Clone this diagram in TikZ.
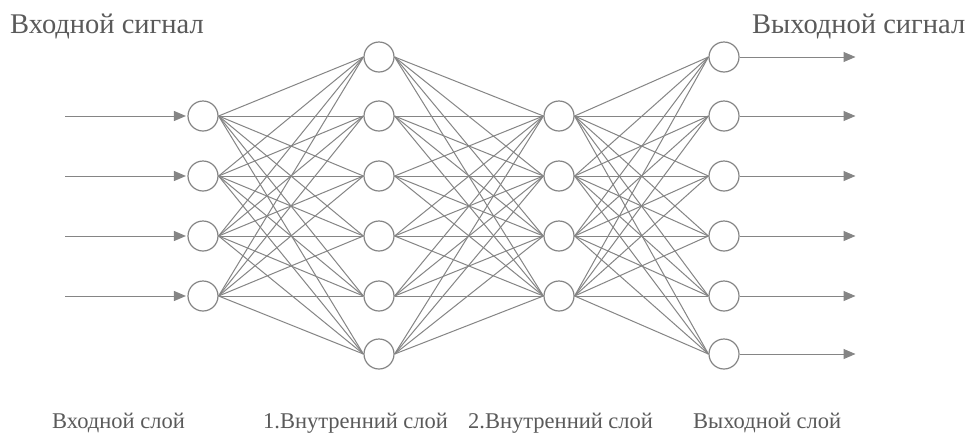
\documentclass[tikz,border=0pt]{standalone}
\usepackage{fontspec}
\setmainfont{Liberation Serif}
\usetikzlibrary{arrows.meta}
\definecolor{linegray}{HTML}{858585}
\definecolor{textgray}{HTML}{5A5A5A}
\tikzset{
  neuron/.style={circle, draw=linegray, line width=1.2pt, minimum size=30pt, inner sep=0pt, fill=white},
  link/.style={draw=linegray, line width=1pt},
  sigarrow/.style={draw=linegray, line width=1pt, -{Triangle[length=12pt,width=10pt]}, shorten >=1.5pt},
  title/.style={text=textgray, font=\fontsize{28.5}{30}\selectfont, inner sep=0pt, anchor=base west},
  layerlabel/.style={text=textgray, font=\fontsize{22.5}{24}\selectfont, inner sep=0pt, anchor=base west}
}
\begin{document}
\begin{tikzpicture}[x=1pt,y=-1pt]
\useasboundingbox (0,0) rectangle (975,432);
\fill[white] (0,0) rectangle (975,432);
\foreach \i/\y in {1/116,2/176,3/236,4/296} {
  \coordinate (s\i) at (65,\y);
}
\foreach \i/\y in {1/57,2/116,3/176,4/236,5/296,6/354} {
  \coordinate (t\i) at (857,\y);
}
\foreach \i/\y in {1/116,2/176,3/236,4/296} \path (203,\y) coordinate (pa\i);
\foreach \i/\y in {1/57,2/116,3/176,4/236,5/296,6/354} \path (379,\y) coordinate (pb\i);
\foreach \i/\y in {1/116,2/176,3/236,4/296} \path (559,\y) coordinate (pc\i);
\foreach \i/\y in {1/57,2/116,3/176,4/236,5/296,6/354} \path (724,\y) coordinate (pd\i);
\foreach \i in {1,...,4} \node[neuron] (a\i) at (pa\i) {};
\foreach \i in {1,...,6} \node[neuron] (b\i) at (pb\i) {};
\foreach \i in {1,...,4} \node[neuron] (c\i) at (pc\i) {};
\foreach \i in {1,...,6} \node[neuron] (d\i) at (pd\i) {};
\foreach \i in {1,...,4} \foreach \j in {1,...,6} \draw[link] (a\i.east) -- (b\j.west);
\foreach \i in {1,...,6} \foreach \j in {1,...,4} \draw[link] (b\i.east) -- (c\j.west);
\foreach \i in {1,...,4} \foreach \j in {1,...,6} \draw[link] (c\i.east) -- (d\j.west);
\foreach \i in {1,...,4} \draw[sigarrow] (s\i) -- (a\i.west);
\foreach \i in {1,...,6} \draw[sigarrow] (d\i.east) -- (t\i);
\node[title] (tin) at (10,33) {Входной сигнал};
\node[title] (tout) at (752,33) {Выходной сигнал};
\node[layerlabel] (l1) at (52,428) {Входной слой};
\node[layerlabel] (l2) at (263,428) {1.Внутренний слой};
\node[layerlabel] (l3) at (468,428) {2.Внутренний слой};
\node[layerlabel] (l4) at (693,428) {Выходной слой};
\end{tikzpicture}
\end{document}
